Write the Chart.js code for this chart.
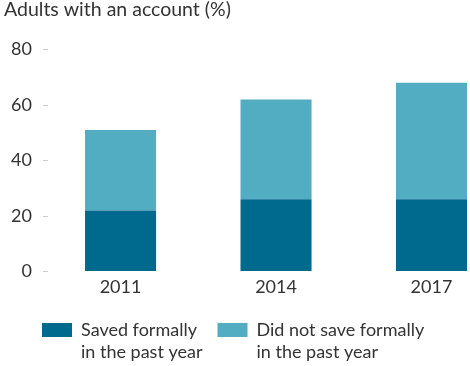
<!DOCTYPE html>
<html lang="en">
<head>
  <meta charset="UTF-8" />
  <title>Adults with an account</title>
  <script src="https://cdn.jsdelivr.net/npm/chart.js"></script>
  <style>
    body { margin: 0; background: #fff; }
    .wrap { width: 470px; height: 366px; position: relative; }
  </style>
</head>
<body>
  <div class="wrap">
    <canvas id="akun"></canvas>
  </div>

  <script>
    const years = [2011, 2014, 2017];
    const savedFormally = [22, 26, 26];
    const notSavedFormally = [29, 36, 42];
    const yTicks = [0, 20, 40, 60, 80];
    const seriesNames = [
      ["Saved formally", "in the past year"],
      ["Did not save formally", "in the past year"]
    ];

    const dark = "#006a8e";
    const light = "#52acc2";
    const textColor = "#333";
    const fontName = "Lato, 'Open Sans', sans-serif";

    // legend drawn under the x axis, two-line labels
    const legendBawah = {
      id: "legendBawah",
      afterDraw(chart) {
        const ctx = chart.ctx;
        ctx.save();
        ctx.font = "18px " + fontName;
        ctx.fillStyle = textColor;
        ctx.textBaseline = "middle";
        const gap = 15;
        let x = 42;
        const y = chart.chartArea.bottom + 58.5;
        chart.data.datasets.forEach((ds, i) => {
          const lines = seriesNames[i];
          const w = Math.max(...lines.map(t => ctx.measureText(t).width));
          ctx.fillStyle = ds.backgroundColor;
          ctx.fillRect(x, y - 7, 30, 14);
          ctx.fillStyle = textColor;
          lines.forEach((t, j) => ctx.fillText(t, x + 39, y + j * 22));
          x += 39 + w + gap;
        });
        ctx.restore();
      }
    };

    new Chart(document.getElementById("akun"), {
      type: "bar",
      data: {
        datasets: [
          {
            label: seriesNames[0].join(" "),
            data: years.map((yr, i) => ({ x: yr, y: savedFormally[i] })),
            backgroundColor: dark
          },
          {
            label: seriesNames[1].join(" "),
            data: years.map((yr, i) => ({ x: yr, y: notSavedFormally[i] })),
            backgroundColor: light
          }
        ]
      },
      options: {
        responsive: true,
        maintainAspectRatio: false,
        animation: false,
        barPercentage: 0.457,
        categoryPercentage: 1,
        layout: { padding: { left: 4, right: 3, top: 0, bottom: 64.5 } },
        plugins: {
          legend: { display: false },
          tooltip: { enabled: false },
          title: {
            display: true,
            text: "Adults with an account (%)",
            align: "start",
            color: textColor,
            font: { family: fontName, size: 19.5, weight: "normal", lineHeight: 1 },
            padding: { top: 0, bottom: 30 }
          }
        },
        scales: {
          x: {
            type: "linear",
            stacked: true,
            offset: false,
            min: 2009.6,
            max: 2017.685,
            afterBuildTicks: scale => { scale.ticks = years.map(v => ({ value: v })); },
            afterFit: scale => { scale.height = 30; },
            grid: { display: false, drawTicks: false, tickLength: 0 },
            border: { display: false },
            ticks: {
              color: textColor,
              font: { family: fontName, size: 18 },
              padding: 5,
              callback: v => String(v)
            }
          },
          y: {
            stacked: true,
            min: 0,
            max: 80,
            afterBuildTicks: scale => { scale.ticks = yTicks.map(v => ({ value: v })); },
            afterFit: scale => { scale.width = 44; },
            grid: { drawOnChartArea: false, drawTicks: true, tickLength: 5, color: "#ccc" },
            border: { display: false },
            ticks: {
              color: textColor,
              font: { family: fontName, size: 18 },
              padding: 11
            }
          }
        }
      },
      plugins: [legendBawah]
    });
  </script>
</body>
</html>
